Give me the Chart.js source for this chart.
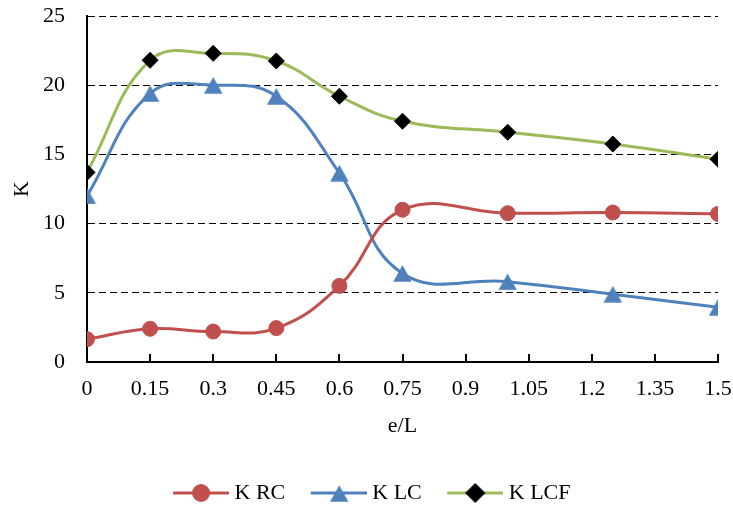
<!DOCTYPE html>
<html>
<head>
<meta charset="utf-8">
<script src="https://cdn.jsdelivr.net/npm/chart.js@4/dist/chart.umd.min.js"></script>
<style>
  html, body { margin: 0; padding: 0; background: #fff; }
  canvas { display: block; }
</style>
</head>
<body>
<canvas id="chart" width="733" height="505"></canvas>
<script>
// e/L positions and K values for each configuration
const eOverL = [0, 0.15, 0.3, 0.45, 0.6, 0.75, 1.0, 1.25, 1.5];
const kRC  = [1.65, 2.4, 2.2, 2.45, 5.5, 11.0, 10.75, 10.8, 10.7];
const kLC  = [12.0, 19.4, 20.0, 19.2, 13.65, 6.4, 5.8, 4.9, 3.95];
const kLCF = [13.7, 21.8, 22.3, 21.75, 19.2, 17.4, 16.6, 15.75, 14.65];
const seriesNames = ['K RC', 'K LC', 'K LCF'];

const FONT = "'Liberation Serif', 'Times New Roman', serif";
const FONT_SIZE = 22;

const toPoints = ys => eOverL.map((x, i) => ({ x, y: ys[i] }));

// triangle marker whose bounding box is centred on the data point
function triangleMarker(color) {
  const c = document.createElement('canvas');
  c.width = 19; c.height = 17;
  const ctx = c.getContext('2d');
  ctx.fillStyle = color;
  ctx.beginPath();
  ctx.moveTo(9.5, 0.3);
  ctx.lineTo(18.7, 16.7);
  ctx.lineTo(0.3, 16.7);
  ctx.closePath();
  ctx.fill();
  return c;
}

const styles = [
  { line: '#C0504D', fill: '#C0504D', pointStyle: 'circle',   radius: 7.5 },
  { line: '#4F81BD', fill: '#4F81BD', pointStyle: triangleMarker('#4F81BD'), radius: 9 },
  { line: '#9BBB59', fill: '#000000', pointStyle: 'rectRot',  radius: 8 }
];

// legend swatch: short line segment with the marker in the middle,
// left part kept transparent so the items sit apart
function legendSwatch(st) {
  const c = document.createElement('canvas');
  c.width = 87; c.height = 22;
  const ctx = c.getContext('2d');
  ctx.strokeStyle = st.line;
  ctx.lineWidth = 3;
  ctx.beginPath();
  ctx.moveTo(31, 11);
  ctx.lineTo(87, 11);
  ctx.stroke();
  if (typeof st.pointStyle === 'string') {
    ctx.fillStyle = st.fill;
    ctx.strokeStyle = st.fill;
    Chart.helpers.drawPoint(ctx, { pointStyle: st.pointStyle, radius: st.radius, rotation: 0, borderWidth: 1 }, 59, 11);
  } else {
    const img = st.pointStyle;
    ctx.drawImage(img, Math.round(59 - img.width / 2), Math.round(11 - img.height / 2));
  }
  return c;
}

const datasets = [kRC, kLC, kLCF].map((vals, i) => ({
  label: seriesNames[i],
  data: toPoints(vals),
  borderColor: styles[i].line,
  backgroundColor: styles[i].fill,
  borderWidth: 3,
  pointStyle: styles[i].pointStyle,
  pointRadius: styles[i].radius,
  pointHoverRadius: styles[i].radius,
  pointBackgroundColor: styles[i].fill,
  pointBorderColor: styles[i].fill,
  pointBorderWidth: 1,
  tension: 0.42,
  fill: false
}));

// small tick marks on the x axis, pointing into the plot area
const innerTicks = {
  id: 'innerTicks',
  beforeDatasetsDraw(chart) {
    const xs = chart.scales.x;
    const ctx = chart.ctx;
    ctx.save();
    ctx.strokeStyle = '#000';
    ctx.lineWidth = 2;
    xs.ticks.forEach((t, i) => {
      if (i === 0) return;
      const px = Math.round(xs.getPixelForValue(t.value));
      ctx.beginPath();
      ctx.moveTo(px, xs.top);
      ctx.lineTo(px, xs.top - 8);
      ctx.stroke();
    });
    ctx.restore();
  }
};

Chart.defaults.font.family = FONT;
Chart.defaults.font.size = FONT_SIZE;
Chart.defaults.color = '#000';

new Chart(document.getElementById('chart'), {
  type: 'line',
  data: { datasets },
  options: {
    responsive: false,
    animation: false,
    events: [],
    layout: { padding: { left: 0, right: 15, top: 16, bottom: -9 } },
    scales: {
      x: {
        type: 'linear',
        min: 0,
        max: 1.5,
        afterFit: s => { s.height = 120; s.paddingLeft = 0; s.paddingRight = 0; },
        ticks: {
          stepSize: 0.15,
          padding: 14,
          maxRotation: 0,
          autoSkip: false,
          callback: v => String(Number(v.toFixed(2)))
        },
        grid: { display: false, drawTicks: false },
        border: { display: true, color: '#000', width: 2 },
        title: { display: true, text: 'e/L', padding: { top: 4, bottom: 43 } }
      },
      y: {
        min: 0,
        max: 25,
        afterFit: s => { s.width = 87; s.paddingTop = 0; s.paddingBottom = 0; },
        ticks: { stepSize: 5, padding: 22 },
        grid: { color: '#000', lineWidth: 1, drawTicks: false },
        border: { display: true, color: '#000', width: 2, dash: [7, 4] },
        title: { display: true, text: 'K', padding: { top: 9, bottom: 9 } }
      }
    },
    plugins: {
      tooltip: { enabled: false },
      legend: {
        position: 'bottom',
        labels: {
          usePointStyle: true,
          pointStyleWidth: 76,
          padding: 0,
          color: '#000',
          font: { family: FONT, size: FONT_SIZE },
          generateLabels: chart => chart.data.datasets.map((ds, i) => ({
            text: ds.label,
            pointStyle: legendSwatch(styles[i]),
            fillStyle: 'transparent',
            strokeStyle: 'transparent',
            lineWidth: 0,
            hidden: false,
            datasetIndex: i,
            fontColor: '#000'
          }))
        }
      }
    }
  },
  plugins: [innerTicks]
});
</script>
</body>
</html>
